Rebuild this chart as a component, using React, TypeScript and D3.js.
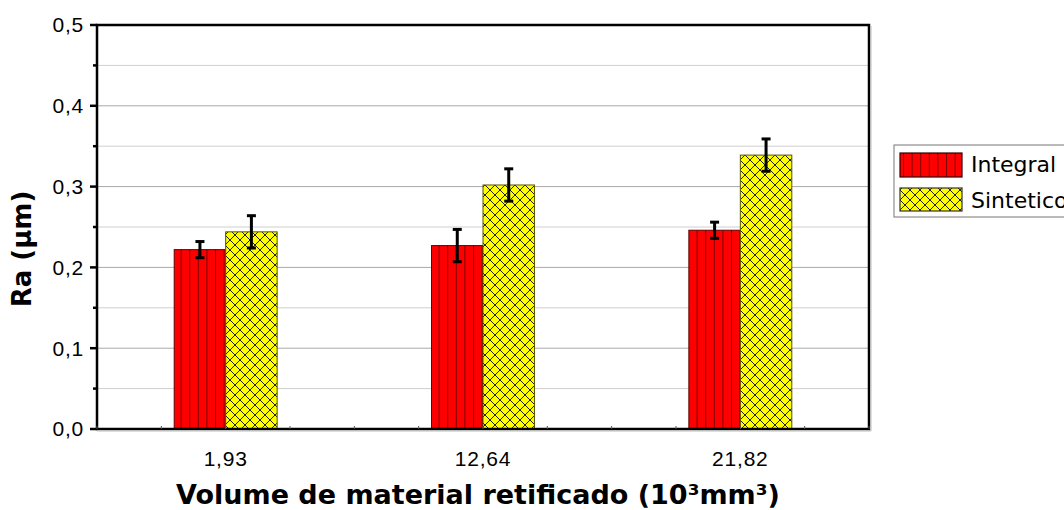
import React from "react";
import * as d3 from "d3";

const categories = ["1,93", "12,64", "21,82"];
const integral = [0.222, 0.227, 0.246];
const integralErr = [0.01, 0.02, 0.01];
const sintetico = [0.244, 0.302, 0.339];
const sinteticoErr = [0.02, 0.02, 0.02];
const yTicks = [0, 0.1, 0.2, 0.3, 0.4, 0.5];
const yMinor = [0.05, 0.15, 0.25, 0.35, 0.45];
const seriesNames = ["Integral", "Sintetico"];

const W = 1064, H = 510;
const L = 97, R = 869, T = 25, B = 429;

export default function App() {
  const y = d3.scaleLinear().domain([0, 0.5]).range([B, T]);
  const x = d3.scaleBand<string>().domain(categories).range([L, R]).padding(0);
  const bw = x.bandwidth() * 0.2;
  const fmt = (v: number) => v.toFixed(1).replace(".", ",");
  const xMinorTicks = d3.range(0, 13).map((i) => L + (i * x.bandwidth()) / 4);

  const errBar = (cx: number, v: number, e: number, key: string) => (
    <g key={key} stroke="#000" strokeWidth={3}>
      <line x1={cx} x2={cx} y1={y(v + e)} y2={y(v - e)} />
      <line x1={cx - 4.5} x2={cx + 4.5} y1={y(v + e)} y2={y(v + e)} />
      <line x1={cx - 4.5} x2={cx + 4.5} y1={y(v - e)} y2={y(v - e)} />
    </g>
  );

  const tickFont = { fontFamily: "'Liberation Sans', Arial, sans-serif", fontSize: 21, letterSpacing: 0.8 };

  return (
    <svg width={W} height={H} style={{ position: "absolute", left: 0, top: 0, background: "#fff" }}>
      <defs>
        <pattern id="stripes" patternUnits="userSpaceOnUse" width={8.6} height={10}>
          <rect width={8.6} height={10} fill="#ff0000" />
          <line x1={0.5} x2={0.5} y1={0} y2={10} stroke="#7a0000" strokeWidth={1} />
        </pattern>
        <pattern id="hatch" patternUnits="userSpaceOnUse" width={10} height={10}>
          <rect width={10} height={10} fill="#ffff00" />
          <path d="M0,0 L10,10 M10,0 L0,10" stroke="#222" strokeWidth={1} />
        </pattern>
      </defs>

      {yMinor.map((t) => (
        <line key={"gm" + t} x1={L} x2={R} y1={y(t)} y2={y(t)} stroke="#cfcfcf" strokeWidth={1} />
      ))}
      {yTicks.slice(1, -1).map((t) => (
        <line key={"g" + t} x1={L} x2={R} y1={y(t)} y2={y(t)} stroke="#a8a8a8" strokeWidth={1} />
      ))}

      {categories.map((c, i) => {
        const cx = (x(c) as number) + x.bandwidth() / 2;
        return (
          <g key={c}>
            <rect x={cx - bw} y={y(integral[i])} width={bw} height={B - y(integral[i])}
              fill="url(#stripes)" stroke="#600000" strokeWidth={1} />
            <rect x={cx} y={y(sintetico[i])} width={bw} height={B - y(sintetico[i])}
              fill="url(#hatch)" stroke="#555500" strokeWidth={1} />
            {errBar(cx - bw / 2, integral[i], integralErr[i], "ei" + i)}
            {errBar(cx + bw / 2, sintetico[i], sinteticoErr[i], "es" + i)}
          </g>
        );
      })}

      <rect x={L} y={T} width={R - L} height={B - T} fill="none" stroke="#000" strokeWidth={2.5} />
      <line x1={R + 2} x2={R + 2} y1={T + 1} y2={B + 2} stroke="#bbb" strokeWidth={1} />
      <line x1={L} x2={R + 2} y1={B + 2} y2={B + 2} stroke="#bbb" strokeWidth={1} />

      {yTicks.map((t) => (
        <g key={"yt" + t}>
          <line x1={L - 7} x2={L} y1={y(t)} y2={y(t)} stroke="#000" strokeWidth={2.5} />
          <text x={L - 13} y={y(t)} dy="0.35em" textAnchor="end" {...tickFont} fill="#000">
            {fmt(t)}
          </text>
        </g>
      ))}
      {yMinor.map((t) => (
        <line key={"ym" + t} x1={L - 4} x2={L} y1={y(t)} y2={y(t)} stroke="#000" strokeWidth={2.5} />
      ))}

      {xMinorTicks.map((tx, i) => (
        <line key={"xm" + i} x1={tx} x2={tx} y1={B} y2={B - 3} stroke="#555" strokeWidth={1} />
      ))}

      {categories.map((c) => (
        <text key={"xl" + c} x={(x(c) as number) + x.bandwidth() / 2} y={466} textAnchor="middle"
          {...tickFont} fill="#000">
          {c}
        </text>
      ))}

      <text x={478} y={504} textAnchor="middle" fontFamily="'DejaVu Sans', Verdana, sans-serif"
        fontWeight="bold" fontSize={27} fill="#000">
        Volume de material retificado (10³mm³)
      </text>
      <text transform={`translate(31,249) rotate(-90)`} textAnchor="middle"
        fontFamily="'DejaVu Sans', Verdana, sans-serif" fontWeight="bold" fontSize={26} fill="#000">
        Ra (µm)
      </text>

      <rect x={894} y={145} width={200} height={72} fill="#fff" stroke="#777" strokeWidth={1} />
      <rect x={900} y={153} width={62} height={24} fill="url(#stripes)" stroke="#300" strokeWidth={1.2} />
      <rect x={900} y={188} width={62} height={23} fill="url(#hatch)" stroke="#333" strokeWidth={1.2} />
      {seriesNames.map((n, i) => (
        <text key={n} x={971} y={172 + i * 36} fontFamily="'DejaVu Sans', Verdana, sans-serif" fontSize={22} fill="#000">
          {n}
        </text>
      ))}
    </svg>
  );
}
